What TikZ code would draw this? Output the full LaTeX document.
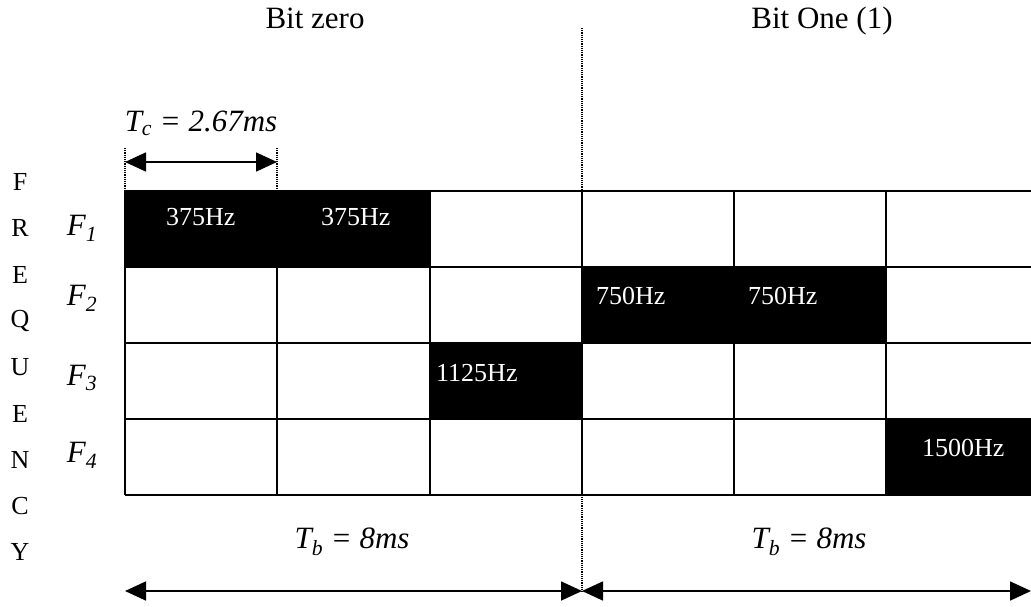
\documentclass[tikz,border=0pt]{standalone}
\usepackage{fontspec}
\setmainfont{Liberation Serif}
\usetikzlibrary{arrows.meta}

\tikzset{
  toplabel/.style={font=\fontsize{31}{36}\selectfont, anchor=base},
  timelabel/.style={font=\fontsize{31}{36}\selectfont\itshape},
  flabel/.style={font=\fontsize{31}{36}\selectfont\itshape},
  hzlabel/.style={font=\fontsize{26}{30}\selectfont, text=white, anchor=west, inner sep=0pt},
  vletter/.style={font=\fontsize{26}{30}\selectfont},
  gridline/.style={line width=1.7pt},
  sepline/.style={densely dotted, line width=1.2pt},
  dimline/.style={line width=1.7pt, {Triangle[length=21pt,width=19pt]}-{Triangle[length=21pt,width=19pt]}}
}

\begin{document}
\begin{tikzpicture}[x=1pt, y=-1pt, line join=round]
\useasboundingbox (0,0) rectangle (1031,606);
% black cells
\fill (125,191) rectangle (430,267);
\fill (582,267) rectangle (886,343);
\fill (430,343) rectangle (582,419);
\fill (886,419) rectangle (1040,495);
% grid
\foreach \y in {191,267,343,419,495}
  \draw[gridline] (125,\y) -- (1040,\y);
\foreach \x in {125,277,430,582,734,886}
  \draw[gridline] (\x,191) -- (\x,495);
% bit boundary and dimension marks
\coordinate (sepT) at (582,28);
\coordinate (sepB) at (582,592);
\draw[sepline] (sepT) -- (sepB);
\coordinate (tcLT) at (125,148);
\coordinate (tcLB) at (125,191);
\coordinate (tcRT) at (277,148);
\coordinate (tcRB) at (277,191);
\draw[sepline] (tcLT) -- (tcLB);
\draw[sepline] (tcRT) -- (tcRB);
\coordinate (tcL) at (125,162);
\coordinate (tcR) at (277,162);
\draw[dimline] (tcL) -- (tcR);
\coordinate (tbL) at (125,591);
\coordinate (tbM) at (582,591);
\coordinate (tbR) at (1031,591);
\draw[dimline] (tbL) -- (tbM);
\draw[dimline] (tbM) -- (tbR);
% labels
\node[toplabel] (bit0) at (315,28) {Bit zero};
\node[toplabel] (bit1) at (822,28) {Bit One (1)};
\node[timelabel] (tc) at (201,123) {T\textsubscript{c} = 2.67ms};
\node[timelabel] (tb0) at (352,542) {T\textsubscript{b} = 8ms};
\node[timelabel] (tb1) at (809,542) {T\textsubscript{b} = 8ms};
\node[flabel] (f1) at (82,228) {F\textsubscript{1}};
\node[flabel] (f2) at (82,298) {F\textsubscript{2}};
\node[flabel] (f3) at (82,378) {F\textsubscript{3}};
\node[flabel] (f4) at (82,455) {F\textsubscript{4}};
\node[hzlabel] (hzA) at (166,217) {375Hz};
\node[hzlabel] (hzB) at (321,217) {375Hz};
\node[hzlabel] (hzC) at (596,296) {750Hz};
\node[hzlabel] (hzD) at (748,296) {750Hz};
\node[hzlabel] (hzE) at (436,373) {1125Hz};
\node[hzlabel] (hzF) at (922,448) {1500Hz};
% F R E Q U E N C Y
\foreach \c [count=\i from 0] in {F,R,E,Q,U,E,N,C,Y}
  \node[vletter] (freq\i) at (20,182+46.3*\i) {\c};
\end{tikzpicture}
\end{document}
